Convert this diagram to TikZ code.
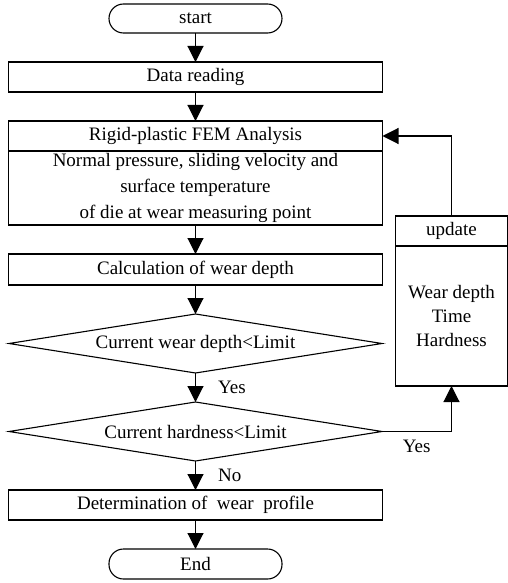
\documentclass[tikz,border=0pt]{standalone}
\usepackage{fontspec}
\setmainfont{Liberation Serif}
\usetikzlibrary{arrows.meta,positioning,shapes.geometric}
\tikzset{
  cell/.style={
    rectangle, draw=black, line width=1.1pt,
    minimum width=374pt, minimum height=30pt,
    align=center, inner sep=0pt, outer sep=0pt,
    font=\fontsize{19pt}{25pt}\selectfont
  },
  term/.style  ={cell, minimum width=173pt, minimum height=29pt, rounded corners=14.5pt},
  proc/.style  ={cell},
  decide/.style={cell, diamond, aspect=6.3, minimum width=373pt, minimum height=59pt},
  flow/.style  ={-{Triangle[length=16pt,width=16pt]}, line width=1.1pt},
  lbl/.style   ={font=\fontsize{19pt}{25pt}\selectfont, inner sep=0pt}
}

\begin{document}
\begin{tikzpicture}[node distance=29pt]
  \useasboundingbox (-195.5pt,18.5pt) rectangle (312.5pt,-564.5pt);

  % main column
  \node[term]                  (start) {start};
  \node[proc, below=of start]  (read)  {Data reading};
  \node[proc, below=of read]   (femT)  {Rigid-plastic FEM Analysis};
  \node[proc, below=0pt of femT, minimum height=74pt,
        font=\fontsize{19pt}{26pt}\selectfont]
                               (femB)  {Normal pressure, sliding velocity and\\surface temperature\\of die at wear measuring point};
  \node[proc, below=of femB, minimum height=31pt] (calc) {Calculation of wear depth};
  \node[decide, below=of calc] (chkD)  {Current wear depth<Limit};
  \node[decide, below=of chkD] (chkH)  {Current hardness<Limit};
  \node[proc, below=of chkH]   (prof)  {Determination of\ \ wear\ \ profile};
  \node[term, below=of prof, minimum height=30pt] (stop) {End};

  % update block
  \node[proc, minimum width=112pt, anchor=north west]
        at ([xshift=13pt, yshift=9pt]femB.south east) (updT) {update};
  \node[proc, minimum width=112pt, minimum height=140pt, below=0pt of updT,
        font=\fontsize{19pt}{24pt}\selectfont]
                               (updB)  {Wear depth\\Time\\Hardness};

  % arrows
  \draw[flow] (start) -- (read);
  \draw[flow] (read)  -- (femT);
  \draw[flow] (femB)  -- (calc);
  \draw[flow] (calc)  -- (chkD);
  \draw[flow] (chkD)  -- node[lbl, right=22pt] {Yes} (chkH);
  \draw[flow] (chkH)  -- node[lbl, right=22pt] {No} (prof);
  \draw[flow] (prof)  -- (stop);

  % feedback loop
  \draw[flow] (chkH.east) -| node[lbl, pos=0.25, below=8pt] {Yes} (updB.south);
  \draw[flow] (updT.north) |- (femT.east);
\end{tikzpicture}
\end{document}
